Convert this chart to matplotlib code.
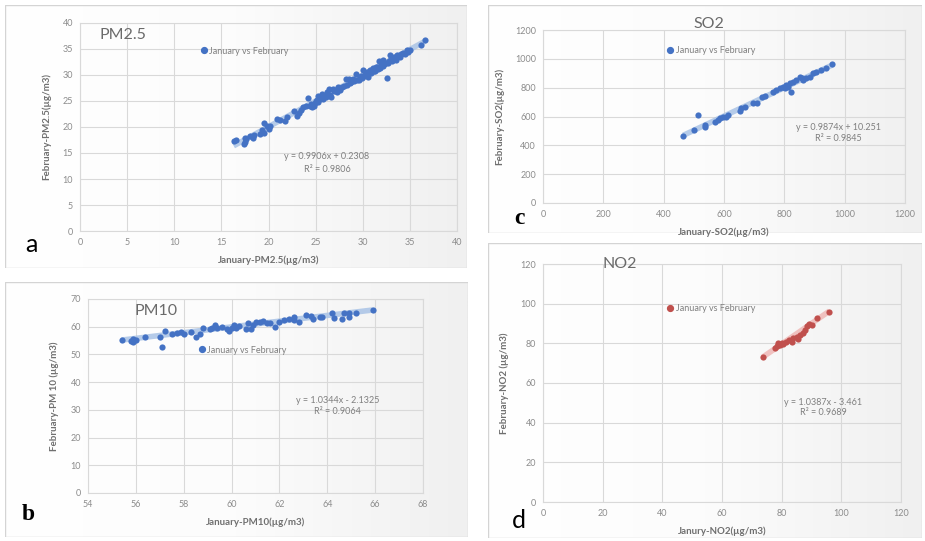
import numpy as np
import matplotlib
matplotlib.use('Agg')
import matplotlib.pyplot as plt
from matplotlib.lines import Line2D
from matplotlib.patches import Rectangle
from matplotlib.colors import LinearSegmentedColormap

plt.rcParams['font.family'] = ['Lato', 'DejaVu Sans']

# ---- data ----
pm25_jan = [16.3, 16.5, 17.4, 17.5, 17.5, 17.6, 18.0, 18.4, 18.5, 19.1, 19.3, 19.5, 19.5, 19.8, 20.0, 20.2,
            20.9, 21.2, 21.8, 22.0, 22.7, 23.0, 23.2, 23.4, 23.7, 24.0, 24.2, 24.4, 24.5, 24.6, 24.8, 24.9,
            25.0, 25.1, 25.2, 25.3, 25.4, 25.5, 25.6, 25.7, 25.8, 25.9, 26.0, 26.1, 26.2, 26.4, 26.5, 26.6,
            26.8, 27.0, 27.3, 27.4, 27.6, 27.8, 28.0, 28.2, 28.3, 28.5, 28.6, 28.8, 29.0, 29.1, 29.3, 29.4,
            29.6, 29.7, 29.8, 29.9, 30.0, 30.1, 30.2, 30.3, 30.4, 30.5, 30.6, 30.7, 30.8, 30.9, 31.0, 31.1,
            31.2, 31.3, 31.4, 31.5, 31.6, 31.7, 31.8, 31.9, 32.0, 32.1, 32.2, 32.3, 32.5, 32.6, 32.7, 32.8,
            32.9, 33.0, 33.1, 33.2, 33.3, 33.4, 33.5, 33.6, 33.8, 34.0, 34.1, 34.3, 34.5, 34.7, 34.8, 35.0,
            36.2, 36.6]
pm25_feb = [17.4, 17.5, 16.7, 17.2, 17.9, 17.6, 18.2, 17.8, 18.5, 18.6, 19.4, 18.9, 20.8, 20.2, 19.7, 20.1,
            21.5, 21.4, 21.2, 22.0, 23.1, 22.1, 22.6, 23.3, 23.8, 24.1, 25.5, 24.0, 24.4, 23.8, 24.0, 24.7,
            25.0, 25.2, 24.9, 25.9, 25.3, 25.4, 25.6, 26.4, 25.4, 25.9, 26.0, 25.8, 26.8, 27.3, 26.2, 25.7,
            27.3, 26.9, 26.8, 27.6, 27.2, 27.7, 27.8, 29.3, 28.0, 29.2, 28.4, 28.6, 29.2, 28.9, 30.2, 29.0,
            29.1, 29.6, 29.8, 29.4, 31.0, 29.9, 30.0, 30.3, 30.5, 30.1, 29.7, 30.6, 30.9, 30.4, 31.0, 31.3,
            30.8, 30.7, 31.5, 31.6, 31.2, 32.6, 31.4, 32.0, 32.3, 31.8, 32.9, 32.1, 32.4, 29.4, 32.3, 32.6,
            33.9, 33.0, 32.7, 33.2, 33.5, 33.0, 32.9, 33.9, 33.6, 33.4, 34.0, 34.2, 34.0, 34.9, 34.5, 34.9,
            35.8, 36.7]

pm10_jan = [55.4, 55.8, 55.9, 55.9, 56.0, 56.4, 57.0, 57.1, 57.2, 57.5, 57.7, 57.9, 58.0, 58.3, 58.5,
            58.7, 58.8, 59.1, 59.2, 59.3, 59.4, 59.6, 59.8, 59.9, 60.0, 60.1, 60.2, 60.3, 60.6, 60.7, 60.8,
            60.9, 61.0, 61.2, 61.3, 61.5, 61.6, 61.8, 62.0, 62.2, 62.4, 62.6, 62.6, 62.8, 63.1, 63.3, 63.4,
            63.7, 63.8, 64.2, 64.3, 64.6, 64.7, 64.9, 64.9, 65.2, 65.9]
pm10_feb = [55.2, 55.0, 55.5, 54.6, 55.1, 56.3, 56.3, 52.7, 58.6, 57.4, 57.6, 58.0, 57.3, 58.0, 56.4,
            57.3, 59.4, 59.2, 59.7, 60.6, 59.4, 60.0, 59.2, 58.4, 59.4, 60.6, 59.7, 60.4, 59.2, 61.2, 59.2,
            60.6, 61.6, 61.6, 62.1, 61.3, 61.2, 60.0, 61.8, 62.3, 62.8, 62.4, 63.6, 61.8, 64.2, 64.0, 62.8,
            63.6, 63.6, 64.8, 63.2, 62.8, 64.8, 64.8, 63.6, 64.8, 66.0]

so2_jan = [465, 500, 515, 537, 537, 570, 581, 587, 598, 607, 614, 653, 658, 669, 697, 708, 725, 736,
           763, 774, 785, 796, 802, 807, 813, 818, 822, 829, 840, 851, 857, 862, 873, 884, 895, 906,
           922, 939, 959]
so2_feb = [467, 506, 608, 529, 540, 564, 576, 587, 594, 598, 610, 638, 656, 667, 691, 691, 737, 744,
           772, 783, 795, 806, 795, 818, 806, 830, 772, 841, 852, 876, 864, 852, 869, 876, 899, 906,
           922, 938, 964]

no2_jan = [73.6, 77.8, 78.3, 78.9, 79.4, 80.0, 80.6, 81.4, 82.6, 83.4, 83.9, 85.0, 85.6, 86.2, 87.1,
           87.8, 88.4, 89.3, 90.1, 91.8, 96.0]
no2_feb = [73.0, 77.5, 78.7, 80.0, 79.2, 80.3, 79.7, 80.8, 81.7, 80.8, 82.5, 83.4, 82.1, 84.2, 85.1,
           86.7, 88.8, 89.8, 89.3, 92.6, 96.0]

# trendline coefficients (slope, intercept) and R^2 from the chart text
fits = [(0.9906, 0.2308, 0.9806), (1.0344, -2.1325, 0.9064), (0.9874, 10.251, 0.9845), (1.0387, -3.461, 0.9689)]
eq_texts = ['y = 0.9906x + 0.2308', 'y = 1.0344x - 2.1325', 'y = 0.9874x + 10.251', 'y = 1.0387x - 3.461']
r2_texts = ['R² = 0.9806', 'R² = 0.9064', 'R² = 0.9845', 'R² = 0.9689']

W, H = 925, 541
fig = plt.figure(figsize=(W / 100, H / 100), dpi=100)


def rect(l, t, r, b):
    return [l / W, 1 - b / H, (r - l) / W, (b - t) / H]


grad = LinearSegmentedColormap.from_list('g', ['#ffffff', '#fcfcfc', '#f0f0f0'])


def panel_box(l, t, r, b):
    bg = fig.add_axes(rect(l, t, r, b), zorder=0)
    bg.imshow(np.linspace(0, 1, 256)[None, :], cmap=grad, aspect='auto', extent=[0, 1, 0, 1])
    bg.add_patch(Rectangle((0, 0), 1, 1, transform=bg.transAxes, fill=False,
                           edgecolor='#d4d4d4', lw=1.0))
    bg.set_axis_off()


gray = '#7f7f7f'
blue = '#4472c4'
red = '#c0504d'

panels = [
    dict(box=(5, 5, 467, 268), ax=(80, 23, 457, 231), x=pm25_jan, y=pm25_feb,
         xlim=(0, 40), xstep=5, ylim=(0, 40), ystep=5,
         xlabel='January-PM2.5(µg/m3)', ylabel='February-PM2.5(µg/m3)',
         title='PM2.5', tpos=(0.053, 0.942, 'left'), leg=(0.317, 0.865), eq=(0.655, 0.356, 0.298),
         col=blue, tcol='#a9c3e6', letter='a', lpos=(31, 245), lfont=dict(family=['Lato'], size=18)),
    dict(box=(5, 282, 468, 537), ax=(88, 299, 423, 493), x=pm10_jan, y=pm10_feb,
         xlim=(54, 68), xstep=2, ylim=(0, 70), ystep=10,
         xlabel='January-PM10(µg/m3)', ylabel='February-PM 10 (µg/m3)',
         title='PM10', tpos=(0.14, 0.938, 'left'), leg=(0.327, 0.737), eq=(0.746, 0.479, 0.418),
         col=blue, tcol='#a9c3e6', letter='b', lpos=(28, 514),
         lfont=dict(family=['Liberation Serif'], size=17, weight='bold')),
    dict(box=(488, 5, 922, 233), ax=(543, 30, 905, 203), x=so2_jan, y=so2_feb,
         xlim=(0, 1200), xstep=200, ylim=(0, 1200), ystep=200,
         xlabel='January-SO2(µg/m3)', ylabel='February-SO2(µg/m3)',
         title='SO2', tpos=(0.458, 1.035, 'center'), leg=(0.339, 0.879), eq=(0.815, 0.434, 0.37),
         col=blue, tcol='#a9c3e6', letter='c', lpos=(519, 219),
         lfont=dict(family=['Liberation Serif'], size=17, weight='bold')),
    dict(box=(488, 243, 922, 538), ax=(543, 264, 901, 502), x=no2_jan, y=no2_feb,
         xlim=(0, 120), xstep=20, ylim=(0, 120), ystep=20,
         xlabel='Janury-NO2(µg/m3)', ylabel='February-NO2 (µg/m3)',
         title='NO2', tpos=(0.165, 1.0, 'left'), leg=(0.343, 0.811), eq=(0.782, 0.42, 0.374),
         col=red, tcol='#efb8b6', letter='d', lpos=(519, 520), lfont=dict(family=['Lato'], size=18)),
]

for p, (a, b, r2), eq, r2t in zip(panels, fits, eq_texts, r2_texts):
    panel_box(*p['box'])
    ax = fig.add_axes(rect(*p['ax']), zorder=1)
    ax.set_facecolor('none')
    ax.set_xlim(*p['xlim'])
    ax.set_ylim(*p['ylim'])
    ax.set_xticks(np.arange(p['xlim'][0], p['xlim'][1] + 0.001, p['xstep']))
    ax.set_yticks(np.arange(p['ylim'][0], p['ylim'][1] + 0.001, p['ystep']))
    ax.grid(True, color='#d9d9d9', lw=0.8)
    ax.set_axisbelow(True)
    for s in ax.spines.values():
        s.set_color('#d9d9d9')
        s.set_linewidth(0.8)
    ax.tick_params(length=0, labelsize=6.5, labelcolor='#8c8c8c', pad=5)

    xs = np.array(p['x'])
    xl = np.array([xs.min(), xs.max()])
    ax.plot(xl, a * xl + b, color=p['tcol'], lw=4, alpha=0.85, solid_capstyle='butt', zorder=2)
    ax.scatter(p['x'], p['y'], s=20, color=p['col'], zorder=3, linewidths=0)

    ax.set_xlabel(p['xlabel'], fontsize=7, color='#6f6f6f', fontweight='bold', labelpad=6)
    ax.set_ylabel(p['ylabel'], fontsize=7, color='#6f6f6f', fontweight='bold', labelpad=8)

    tx, ty, ha = p['tpos']
    ax.text(tx, ty, p['title'], transform=ax.transAxes, fontsize=11.5, color='#6a6a6a',
            ha=ha, va='center')

    h = Line2D([], [], marker='o', ls='', color=p['col'], markersize=4.2)
    ax.legend([h], ['January vs February'], loc='center left', bbox_to_anchor=(p['leg'][0], p['leg'][1]),
              frameon=False, fontsize=6.5, handletextpad=0.2, handlelength=0.9, borderpad=0,
              borderaxespad=0, labelcolor=gray)

    ex, ey1, ey2 = p['eq']
    ax.text(ex, ey1, eq, transform=ax.transAxes, fontsize=6.5, color=gray, ha='center', va='center')
    ax.text(ex, ey2, r2t, transform=ax.transAxes, fontsize=6.5, color=gray, ha='center', va='center')

    fig.text(p['lpos'][0] / W, 1 - p['lpos'][1] / H, p['letter'], ha='center', va='center',
             color='black', **p['lfont'])

fig.savefig('out.png', dpi=100)
